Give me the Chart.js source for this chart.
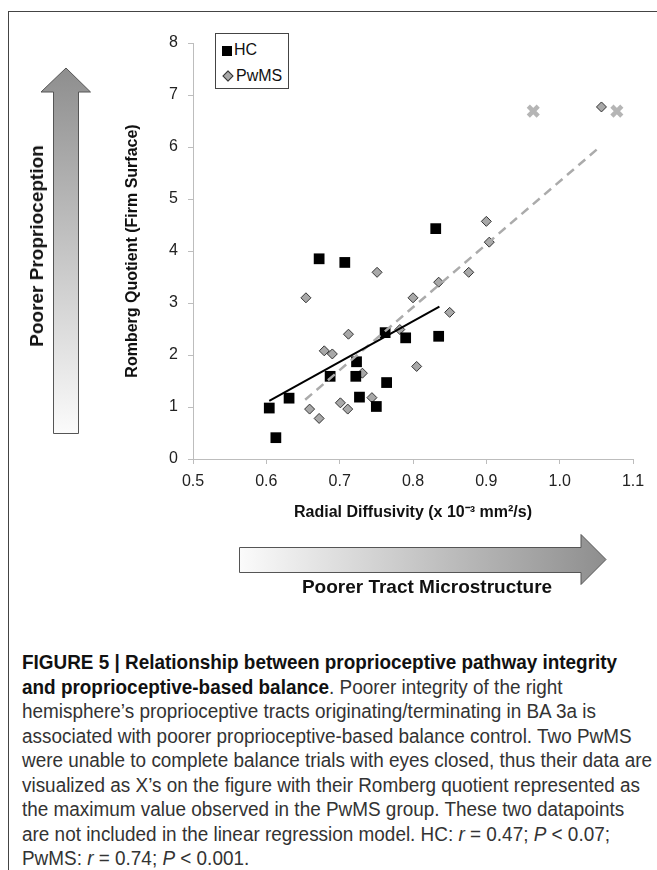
<!DOCTYPE html>
<html>
<head>
<meta charset="utf-8">
<script src="https://cdn.jsdelivr.net/npm/chart.js@4/dist/chart.umd.min.js"></script>
<style>
  body { margin: 0; background: #fff; }
  #fig { position: relative; width: 657px; height: 870px; overflow: hidden; }
  #marco { position: absolute; left: 8px; top: 11px; width: 700px; height: 900px;
           border-left: 1px solid #444; border-top: 1px solid #444; }
  #myChart { position: absolute; left: 0; top: 0; }
  #leyenda { position: absolute; left: 215px; top: 33px; width: 72px; height: 54px;
             border: 1px solid #444; background: #fff;
             font: 16px "Liberation Sans", Arial, sans-serif; color: #111; }
  #leyenda .fila { position: absolute; left: 6px; height: 18px; line-height: 18px; }
  #leyenda .cuadro { display: inline-block; width: 10px; height: 10px; background: #000;
                     vertical-align: -1px; margin-right: 2px; }
  #leyenda .rombo { display: inline-block; width: 6px; height: 6px; background: #a8a8a8;
                    border: 1px solid #333; transform: rotate(45deg);
                    vertical-align: 1px; margin: 0 4px 0 2px; }
  .flecha-txt { position: absolute; font: bold 19px "Liberation Sans", Arial, sans-serif;
                color: #111; white-space: nowrap; }
  #txtIzq { left: 37px; top: 246px; transform: translate(-50%, -50%) rotate(-90deg); }
  #txtAbajo { left: 427px; top: 587px; transform: translate(-50%, -50%); }
  #caption { position: absolute; left: 22px; top: 650px;
             font: 20px "Liberation Sans", Arial, sans-serif;
             line-height: 24.5px; color: #333; white-space: nowrap;
             transform-origin: 0 0; }
  #caption b { color: #111; }
</style>
</head>
<body>
<div id="fig">
  <div id="marco"></div>
  <canvas id="myChart" width="657" height="600"></canvas>
  <div id="leyenda">
    <div class="fila" style="top:7px"><span class="cuadro"></span>HC</div>
    <div class="fila" style="top:33px"><span class="rombo"></span>PwMS</div>
  </div>
  <div class="flecha-txt" id="txtIzq">Poorer Proprioception</div>
  <div class="flecha-txt" id="txtAbajo">Poorer Tract Microstructure</div>
  <div id="caption">
    <div><b>FIGURE 5 | Relationship between proprioceptive pathway integrity</b></div>
    <div><b>and proprioceptive-based balance</b>. Poorer integrity of the right</div>
    <div>hemisphere’s proprioceptive tracts originating/terminating in BA 3a is</div>
    <div>associated with poorer proprioceptive-based balance control. Two PwMS</div>
    <div><span id="lineaLarga">were unable to complete balance trials with eyes closed, thus their data are</span></div>
    <div>visualized as X’s on the figure with their Romberg quotient represented as</div>
    <div>the maximum value observed in the PwMS group. These two datapoints</div>
    <div>are not included in the linear regression model. HC: <i>r</i> = 0.47; <i>P</i> &lt; 0.07;</div>
    <div>PwMS: <i>r</i> = 0.74; <i>P</i> &lt; 0.001.</div>
  </div>
</div>
<script>
// datos
const hcX = [0.604, 0.613, 0.631, 0.672, 0.687, 0.707, 0.722, 0.723, 0.727, 0.750, 0.762, 0.764, 0.790, 0.831, 0.835];
const hcY = [0.98, 0.41, 1.17, 3.85, 1.59, 3.78, 1.59, 1.87, 1.19, 1.01, 2.43, 1.47, 2.33, 4.43, 2.36];

const pwmsX = [0.654, 0.659, 0.672, 0.679, 0.690, 0.701, 0.711, 0.712, 0.731, 0.744, 0.751, 0.782, 0.800, 0.805, 0.835, 0.850, 0.876, 0.900, 0.904, 1.057];
const pwmsY = [3.10, 0.96, 0.78, 2.08, 2.02, 1.08, 0.96, 2.40, 1.65, 1.18, 3.59, 2.49, 3.10, 1.78, 3.40, 2.82, 3.59, 4.57, 4.17, 6.77];

// los dos PwMS que no completaron la prueba (X)
const excluidosX = [0.964, 1.078];
const excluidosY = [6.69, 6.69];

// extremos de las rectas de regresion
const hcFitX = [0.604, 0.836];
const hcFitY = [1.12, 2.93];
const pwmsFitX = [0.653, 1.053];
const pwmsFitY = [1.14, 5.98];

const xTicks = [0.5, 0.6, 0.7, 0.8, 0.9, 1.0, 1.1];
const yTicks = [0, 1, 2, 3, 4, 5, 6, 7, 8];

const toPoints = (xs, ys) => xs.map((x, i) => ({ x: x, y: ys[i] }));

(() => {
    const ctx = document.getElementById('myChart').getContext('2d');
    const FAMILIA = '"Liberation Sans", Arial, sans-serif';

    // el pie de figura es condensado: se ajusta al ancho de la linea mas larga
    const caption = document.getElementById('caption');
    const anchoLinea = document.getElementById('lineaLarga').getBoundingClientRect().width;
    caption.style.transform = 'scaleX(' + (630 / anchoLinea) + ')';

    // flechas grises con degradado
    const flechas = {
        id: 'flechas',
        afterDraw(chart) {
            const c = chart.ctx;
            c.save();
            c.strokeStyle = '#555';
            c.lineWidth = 1;

            // flecha vertical (izquierda)
            let g = c.createLinearGradient(0, 68, 0, 433);
            g.addColorStop(0, '#8e8e8e');
            g.addColorStop(1, '#fbfbfb');
            c.fillStyle = g;
            c.beginPath();
            c.moveTo(53.5, 433.5);
            c.lineTo(53.5, 92);
            c.lineTo(41, 92);
            c.lineTo(66, 68);
            c.lineTo(90.5, 92);
            c.lineTo(78.5, 92);
            c.lineTo(78.5, 433.5);
            c.closePath();
            c.fill();
            c.stroke();

            // flecha horizontal (abajo)
            g = c.createLinearGradient(239, 0, 606, 0);
            g.addColorStop(0, '#fbfbfb');
            g.addColorStop(1, '#8e8e8e');
            c.fillStyle = g;
            c.beginPath();
            c.moveTo(239.5, 547.5);
            c.lineTo(581, 547.5);
            c.lineTo(581, 534.5);
            c.lineTo(606, 559.5);
            c.lineTo(581, 584.5);
            c.lineTo(581, 572.5);
            c.lineTo(239.5, 572.5);
            c.closePath();
            c.fill();
            c.stroke();
            c.restore();
        }
    };

    const grafica = new Chart(ctx, {
        type: 'scatter',
        data: {
            datasets: [
                {
                    label: 'HC fit',
                    type: 'line',
                    data: toPoints(hcFitX, hcFitY),
                    borderColor: '#000',
                    borderWidth: 2,
                    pointRadius: 0,
                    fill: false
                },
                {
                    label: 'PwMS fit',
                    type: 'line',
                    data: toPoints(pwmsFitX, pwmsFitY),
                    borderColor: '#ababab',
                    borderWidth: 2.5,
                    borderDash: [9, 6],
                    pointRadius: 0,
                    fill: false
                },
                {
                    label: 'HC',
                    data: toPoints(hcX, hcY),
                    pointStyle: 'rect',
                    pointRadius: 7.6,
                    backgroundColor: '#000',
                    borderColor: '#000',
                    borderWidth: 0
                },
                {
                    label: 'PwMS',
                    data: toPoints(pwmsX, pwmsY),
                    pointStyle: 'rectRot',
                    pointRadius: 5,
                    backgroundColor: '#a8a8a8',
                    borderColor: '#333',
                    borderWidth: 1
                },
                {
                    label: 'PwMS excluidos',
                    data: toPoints(excluidosX, excluidosY),
                    pointStyle: 'crossRot',
                    pointRadius: 7,
                    borderColor: '#b5b5b5',
                    borderWidth: 4.5
                }
            ]
        },
        options: {
            responsive: false,
            animation: false,
            devicePixelRatio: 1,
            layout: { padding: { top: 43, right: 24, left: 0, bottom: 0 } },
            plugins: {
                legend: { display: false },
                tooltip: { enabled: false }
            },
            scales: {
                x: {
                    type: 'linear',
                    min: xTicks[0],
                    max: xTicks[xTicks.length - 1],
                    afterBuildTicks: (scale) => { scale.ticks = xTicks.map(v => ({ value: v })); },
                    afterFit: (scale) => { scale.height = 141; },
                    grid: { drawOnChartArea: false, drawTicks: true, tickLength: 5, color: '#bdbdbd' },
                    border: { display: true, color: '#bdbdbd', width: 1 },
                    ticks: {
                        padding: 8,
                        color: '#222',
                        font: { family: FAMILIA, size: 16 },
                        callback: (v) => Number(v).toFixed(1)
                    },
                    title: {
                        display: true,
                        text: 'Radial Diffusivity (x 10⁻³ mm²/s)',
                        color: '#111',
                        font: { family: FAMILIA, size: 16, weight: 'bold' },
                        padding: { top: 0, bottom: 78 }
                    }
                },
                y: {
                    type: 'linear',
                    min: yTicks[0],
                    max: yTicks[yTicks.length - 1],
                    afterBuildTicks: (scale) => { scale.ticks = yTicks.map(v => ({ value: v })); },
                    afterFit: (scale) => { scale.width = 193; },
                    grid: { drawOnChartArea: false, drawTicks: true, tickLength: 5, color: '#bdbdbd' },
                    border: { display: true, color: '#bdbdbd', width: 1 },
                    ticks: {
                        padding: 10,
                        color: '#222',
                        font: { family: FAMILIA, size: 16 }
                    },
                    title: {
                        display: true,
                        text: 'Romberg Quotient (Firm Surface)',
                        color: '#111',
                        font: { family: FAMILIA, size: 16, weight: 'bold' },
                        padding: { top: 123, bottom: 0 }
                    }
                }
            }
        },
        plugins: [flechas]
    });
})()
</script>
</body>
</html>
